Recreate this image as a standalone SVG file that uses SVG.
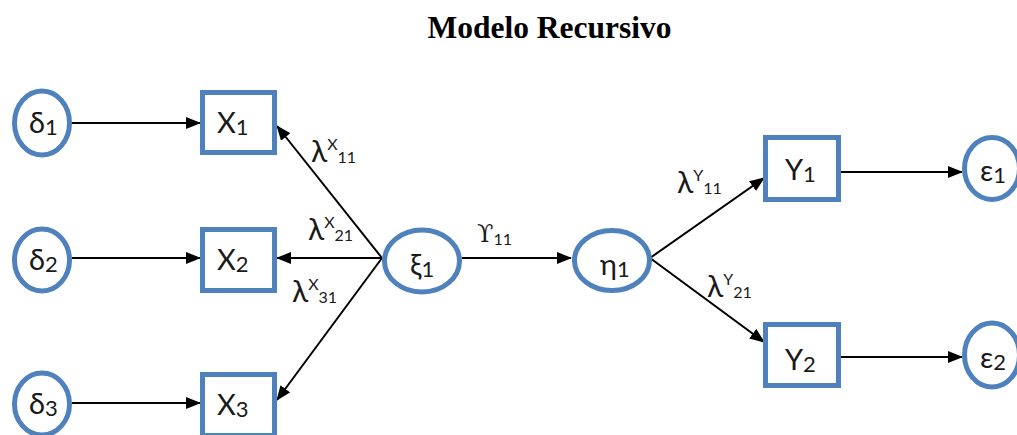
<svg xmlns="http://www.w3.org/2000/svg" width="1017" height="435" viewBox="0 0 1017 435">
<defs>
<marker id="ah" markerUnits="userSpaceOnUse" markerWidth="15" markerHeight="12" refX="14" refY="6" orient="auto">
<path d="M0,0 L15,6 L0,12 z" fill="#000"/>
</marker>
<style>
.box{fill:#fff;stroke:#4F81BD;stroke-width:5}
.ell{fill:#fff;stroke:#4F81BD;stroke-width:5}
.lbl{font-family:Lato,"Noto Sans",sans-serif;font-size:29px;fill:#1a1a1a}
.sub{font-size:22px}
.el{font-family:Lato,"Noto Sans",sans-serif;font-size:30px;fill:#1a1a1a}
.sm{font-size:16px}
.con{stroke:#000;stroke-width:2;fill:none;marker-end:url(#ah)}
.title{font-family:"Liberation Serif",serif;font-weight:bold;font-size:31.5px;fill:#000}
</style>
</defs>
<rect width="1017" height="435" fill="#fff"/>
<text class="title" x="549.5" y="38" text-anchor="middle">Modelo Recursivo</text>

<g id="connectors">
<line class="con" x1="72" y1="123" x2="200" y2="123"/>
<line class="con" x1="72" y1="258" x2="200" y2="258"/>
<line class="con" x1="72" y1="403" x2="200" y2="403"/>
<line class="con" x1="382" y1="258" x2="277" y2="126"/>
<line class="con" x1="382" y1="258" x2="277" y2="258"/>
<line class="con" x1="382" y1="258" x2="277" y2="400"/>
<line class="con" x1="462" y1="258" x2="571" y2="258"/>
<line class="con" x1="650" y1="258" x2="764" y2="178"/>
<line class="con" x1="650" y1="258" x2="764" y2="342"/>
<line class="con" x1="841" y1="172" x2="962" y2="172"/>
<line class="con" x1="841" y1="357" x2="962" y2="357"/>
</g>

<g id="edge-labels">
<text class="el" x="311" y="162">λ<tspan class="sm" dy="-12">X</tspan><tspan class="sm" dy="13">11</tspan></text>
<text class="el" x="308" y="240">λ<tspan class="sm" dy="-12">X</tspan><tspan class="sm" dy="13">21</tspan></text>
<text class="el" x="292" y="302">λ<tspan class="sm" dy="-12">X</tspan><tspan class="sm" dy="13">31</tspan></text>
<text x="477" y="242" style="font-family:'DejaVu Serif',serif;font-size:24px;fill:#1a1a1a">ϒ<tspan style="font-family:Lato,'Noto Sans',sans-serif;font-size:16px" dy="3">11</tspan></text>
<text class="el" x="677" y="193">λ<tspan class="sm" dy="-12">Y</tspan><tspan class="sm" dy="13">11</tspan></text>
<text class="el" x="707" y="297">λ<tspan class="sm" dy="-12">Y</tspan><tspan class="sm" dy="13">21</tspan></text>
</g>

<g id="delta1"><ellipse class="ell" cx="42" cy="123" rx="27.5" ry="32"/><text class="lbl" x="29" y="133">δ<tspan class="sub" dy="2">1</tspan></text></g>
<g id="delta2"><ellipse class="ell" cx="42" cy="260" rx="27.5" ry="31"/><text class="lbl" x="29" y="270">δ<tspan class="sub" dy="2">2</tspan></text></g>
<g id="delta3"><ellipse class="ell" cx="42" cy="404" rx="27.5" ry="31"/><text class="lbl" x="29" y="414">δ<tspan class="sub" dy="2">3</tspan></text></g>

<g id="X1"><rect class="box" x="202.5" y="92.5" width="72" height="60"/><text class="lbl" x="217" y="133">X<tspan class="sub" dy="2">1</tspan></text></g>
<g id="X2"><rect class="box" x="202.5" y="229.5" width="72" height="61"/><text class="lbl" x="217" y="270">X<tspan class="sub" dy="2">2</tspan></text></g>
<g id="X3"><rect class="box" x="202.5" y="374.5" width="72" height="61"/><text class="lbl" x="217" y="415">X<tspan class="sub" dy="2">3</tspan></text></g>

<g id="xi1"><ellipse class="ell" cx="422" cy="261" rx="37.5" ry="31"/><text class="lbl" x="410" y="275">ξ<tspan class="sub" dy="2">1</tspan></text></g>
<g id="eta1"><ellipse class="ell" cx="612" cy="260.5" rx="37.5" ry="30"/><text class="lbl" x="600" y="275">η<tspan class="sub" dy="2">1</tspan></text></g>

<g id="Y1"><rect class="box" x="765.5" y="137.5" width="73" height="62"/><text class="lbl" x="785" y="180">Y<tspan class="sub" dy="2">1</tspan></text></g>
<g id="Y2"><rect class="box" x="765.5" y="324.5" width="73" height="61"/><text class="lbl" x="785" y="370">Y<tspan class="sub" dy="2">2</tspan></text></g>

<g id="eps1"><ellipse class="ell" cx="992" cy="168.5" rx="27.5" ry="31"/><text class="lbl" x="980" y="181">ε<tspan class="sub" dy="2">1</tspan></text></g>
<g id="eps2"><ellipse class="ell" cx="992" cy="355" rx="27.5" ry="32"/><text class="lbl" x="980" y="368">ε<tspan class="sub" dy="2">2</tspan></text></g>
</svg>
